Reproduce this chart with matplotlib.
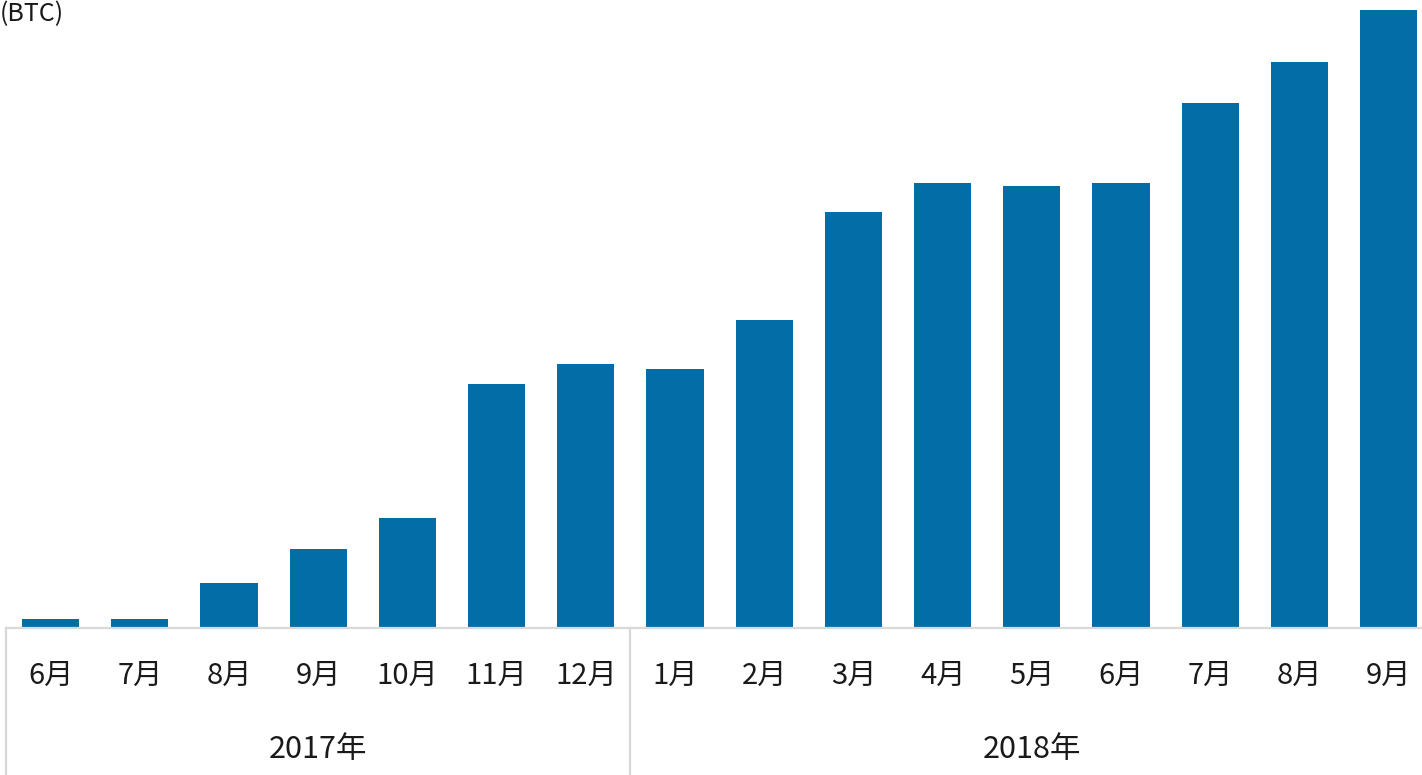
import numpy as np
import matplotlib.pyplot as plt

plt.rcParams['font.family'] = ['Noto Sans CJK JP', 'DejaVu Sans']

# monthly values (BTC)
months = ['6月', '7月', '8月', '9月', '10月', '11月', '12月',
          '1月', '2月', '3月', '4月', '5月', '6月', '7月', '8月', '9月']
values = [9, 9, 45, 79, 110, 244, 264,
          259, 308, 416, 445, 442, 445, 525, 566, 618]
years = ['2017年', '2018年']
year_counts = [7, 9]

bar_color = '#036da7'
line_color = '#d9d9d9'

W, H = 1422, 775
fig = plt.figure(figsize=(W / 100, H / 100), dpi=100)

# axes placed in pixel terms: left edge at x=6, baseline at y=628
step = 89.2
left_px = 6
right_px = left_px + step * len(months)
base_px = 628
ax = fig.add_axes([left_px / W, (H - base_px) / H, (right_px - left_px) / W, base_px / H])

x = np.arange(len(months))
ax.bar(x, values, width=0.64, color=bar_color, zorder=2)
ax.set_xlim(-0.5, len(months) - 0.5)
ax.set_ylim(0, base_px)

for s in ['top', 'right', 'left']:
    ax.spines[s].set_visible(False)
ax.spines['bottom'].set_color(line_color)
ax.spines['bottom'].set_linewidth(1.6)
ax.set_yticks([])
ax.set_xticks([])

trans = ax.get_xaxis_transform()
frac = 1 / base_px

# month labels
for i, m in enumerate(months):
    ax.text(i, -48 * frac, m, ha='center', va='center', fontsize=21,
            color='#1a1a1a', transform=trans)

# year groups with separators
start = 0
for yr, n in zip(years, year_counts):
    ax.plot([start - 0.5, start - 0.5], [0, -160 * frac], color=line_color,
            lw=1.6, transform=trans, clip_on=False)
    ax.text(start + n / 2 - 0.5, -122 * frac, yr, ha='center', va='center',
            fontsize=22, color='#1a1a1a', transform=trans)
    start += n

fig.text(0, 1 - 1 / H, '(BTC)', ha='left', va='top', fontsize=18, color='#1a1a1a')

fig.savefig('out.png', dpi=100)
